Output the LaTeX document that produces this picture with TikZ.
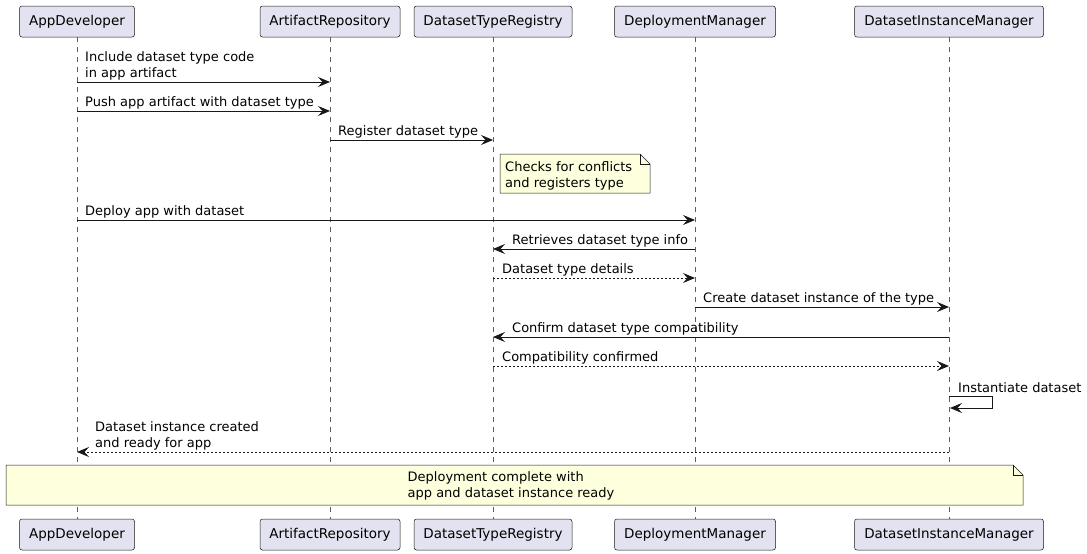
\documentclass[tikz,border=0pt]{standalone}
\usepackage{fontspec}
\setmainfont{DejaVu Sans}
\usetikzlibrary{arrows.meta}
\definecolor{partFill}{HTML}{E2E2F0}
\definecolor{noteFill}{HTML}{FEFFDD}
\definecolor{lineCol}{HTML}{181818}

\tikzset{
  participant/.style={draw=lineCol, fill=partFill, rounded corners=2.5pt,
    minimum height=31pt, inner sep=0pt, line width=0.5pt,
    font=\fontsize{13.5}{16}\selectfont},
  lifeline/.style={draw=lineCol!70, dash pattern=on 5pt off 5pt, line width=0.5pt},
  msg/.style={draw=lineCol, line width=0.9pt,
    -{Stealth[length=12pt, width=10pt, inset=4.5pt]}},
  reply/.style={msg, dash pattern=on 2pt off 2pt},
  msgtext/.style={font=\fontsize{13}{16}\selectfont, anchor=south west,
    inner sep=0pt, align=left},
  notetext/.style={font=\fontsize{13}{16}\selectfont, inner sep=0pt, align=left},
  noteshape/.style={draw=lineCol, fill=noteFill, line width=0.5pt},
}

\begin{document}
\begin{tikzpicture}[x=1pt, y=-1pt]
  \useasboundingbox (0,0) rectangle (1087,554);

  % participants, top and bottom
  \foreach \name/\label/\xpos/\boxw in {
      ad/AppDeveloper/77/115,
      ar/ArtifactRepository/330/140,
      dtr/DatasetTypeRegistry/493/158,
      dm/DeploymentManager/695/161,
      dim/DatasetInstanceManager/949/189} {
    \node[participant, minimum width=\boxw pt] (\name) at (\xpos,21.5) {\label};
    \node[participant, minimum width=\boxw pt] (\name-b) at (\xpos,534.5) {\label};
    \draw[lifeline] (\name.south) -- (\name-b.north);
  }

  % messages
  \draw[msg] (ad.south |- 0,82) -- (ar.south |- 0,82);
  \node[msgtext] (m1) at (85,80) {Include dataset type code\\in app artifact};

  \draw[msg] (ad.south |- 0,111) -- (ar.south |- 0,111);
  \node[msgtext] (m2) at (85,109) {Push app artifact with dataset type};

  \draw[msg] (ar.south |- 0,140) -- (dtr.south |- 0,140);
  \node[msgtext] (m3) at (338,138) {Register dataset type};

  % note on the registry
  \draw[noteshape]
    (500,154) -- (640,154) -- (650,164) -- (650,193) -- (500,193) -- cycle;
  \draw[noteshape, fill=none] (640,154) -- (640,164) -- (650,164);
  \node[notetext, anchor=north west] (n1) at (505,161) {Checks for conflicts\\and registers type};

  \draw[msg] (ad.south |- 0,220) -- (dm.south |- 0,220);
  \node[msgtext] (m4) at (85,218) {Deploy app with dataset};

  \draw[msg] (dm.south |- 0,249) -- (dtr.south |- 0,249);
  \node[msgtext] (m5) at (512,247) {Retrieves dataset type info};

  \draw[reply] (dtr.south |- 0,278) -- (dm.south |- 0,278);
  \node[msgtext] (m6) at (502,276) {Dataset type details};

  \draw[msg] (dm.south |- 0,307) -- (dim.south |- 0,307);
  \node[msgtext] (m7) at (703,305) {Create dataset instance of the type};

  \draw[msg] (dim.south |- 0,337) -- (dtr.south |- 0,337);
  \node[msgtext] (m8) at (512,335) {Confirm dataset type compatibility};

  \draw[reply] (dtr.south |- 0,366) -- (dim.south |- 0,366);
  \node[msgtext] (m9) at (502,364) {Compatibility confirmed};

  % self call
  \coordinate (selfa) at (992,396);
  \coordinate (selfb) at (992,408);
  \draw[msg] (dim.south |- selfa) -- (selfa) -- (selfb) -- ([xshift=1pt]dim.south |- selfb);
  \node[msgtext] (m10) at (958,393) {Instantiate dataset};

  \draw[reply] (dim.south |- 0,452) -- (ad.south |- 0,452);
  \node[msgtext] (m11) at (95,450) {Dataset instance created\\and ready for app};

  % closing note over everyone
  \draw[noteshape]
    (6,465) -- (1013,465) -- (1023,475) -- (1023,505) -- (6,505) -- cycle;
  \draw[noteshape, fill=none] (1013,465) -- (1013,475) -- (1023,475);
  \node[notetext] (n2) at (511,486) {Deployment complete with\\app and dataset instance ready};
\end{tikzpicture}
\end{document}
